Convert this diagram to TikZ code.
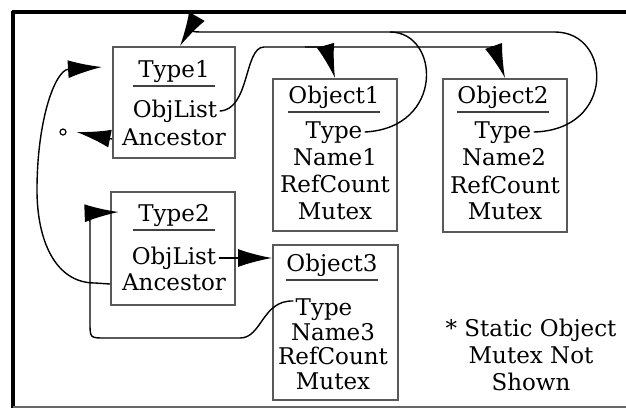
\documentclass[tikz,border=0pt]{standalone}
\usepackage{fontspec}
\setmainfont{DejaVu Serif}
\usetikzlibrary{arrows.meta,calc}
\begin{document}
\begin{tikzpicture}[x=0.5pt,y=-0.5pt,font=\fontsize{11.5pt}{13.5pt}\selectfont,
    box/.style={draw=black!65,line width=1pt,inner sep=0pt},
    head/.style={inner ysep=2pt,inner xsep=0pt,minimum width=41pt,text height=8.5pt,text depth=2.5pt},
    field/.style={inner sep=1pt,text height=8.5pt,text depth=2.5pt},
    rule/.style={draw=black!75,line width=1pt},
    wire/.style={line width=0.7pt},
    link/.style={line width=0.7pt,-{Latex[length=17pt,width=9pt]}}]
  \useasboundingbox (0,0) rectangle (626,409);
  \draw[line width=2pt] (12,12) -- (626,12);
  \draw[line width=1.6pt] (13,11) -- (13,408);
  \draw[black!60,line width=0.6pt] (13,407) -- (626,407);

  \node[box,minimum width=61pt,minimum height=55.5pt] (t1) at (174,102.5) {};
  \node[box,minimum width=62pt,minimum height=56.5pt] (t2) at (173,248.5) {};
  \node[box,minimum width=62pt,minimum height=76pt] (o1) at (335,155) {};
  \node[box,minimum width=62pt,minimum height=76.5pt] (o2) at (505,155.5) {};
  \node[box,minimum width=62.5pt,minimum height=77.5pt] (o3) at (335.5,322.5) {};

  \node[head] (t1head) at (174,71) {Type1};
  \node[field] (t1obj) at (175,111) {ObjList};
  \node[field] (t1anc) at (174,139) {Ancestor};

  \node[head] (t2head) at (174,215) {Type2};
  \node[field] (t2obj) at (174,258) {ObjList};
  \node[field] (t2anc) at (174,284) {Ancestor};

  \node[head] (o1head) at (334,97) {Object1};
  \node[field] (o1type) at (334,132) {Type};
  \node[field] (o1name) at (335,159) {Name1};
  \node[field] (o1ref) at (335,186) {RefCount};
  \node[field] (o1mtx) at (335,213) {Mutex};

  \node[head] (o2head) at (503,97) {Object2};
  \node[field] (o2type) at (503,132) {Type};
  \node[field] (o2name) at (504,159) {Name2};
  \node[field] (o2ref) at (505,187) {RefCount};
  \node[field] (o2mtx) at (505,213) {Mutex};

  \node[head] (o3head) at (332,265) {Object3};
  \node[field] (o3type) at (324,309) {Type};
  \node[field] (o3name) at (333,334) {Name3};
  \node[field] (o3ref) at (333,358) {RefCount};
  \node[field] (o3mtx) at (333,383) {Mutex};

  \foreach \h in {t1head,t2head,o1head,o2head,o3head}
    \draw[rule] (\h.south west) -- (\h.south east);

  \node[circle,draw,line width=0.6pt,minimum size=3pt,inner sep=0pt] (nil) at (63,132) {};
  \node[align=center] (note) at (531,355) {* Static Object\\Mutex Not\\Shown};

  \coordinate (split) at (305,47);
  \coordinate (back) at (390,32);
  \draw[wire] (t1obj.east) .. controls (250,110) and (244,47) .. (264,47) -- (split);
  \draw[link] (split) .. controls (326,47) .. (o1.north);
  \draw[link] (split) -- (468,47) .. controls (494,47) .. (o2.north);
  \draw[wire] (o1type.east) .. controls (445,128) and (440,32) .. (back);
  \draw[link] (o2type.east) .. controls (616,130) and (612,32) .. (555,32) -- (back) -- (205,32)
    .. controls (188,32) .. ($(t1.north)+(6,0)$);
  \draw[link] (t1anc -| t1.west) -- ($(nil.east)+(10,0)$);
  \draw[link] (t2anc -| t2.west) -- (95,283) .. controls (55,283) and (37,240) .. (37,190)
    .. controls (37,120) and (55,70) .. ($(t1head.west -| t1.west)+(-10,-4)$);
  \draw[link] (t2obj.east) -- (t2obj.east -| o3.west);
  \draw[link] ($(o3type.west)+(0,-8)$) .. controls (262,300) and (262,338) .. (240,338) -- (105,338)
    .. controls (90,338) .. (90,322) -- (90,230) .. controls (90,213) .. ($(t2head.west)+(-14,-3)$);
\end{tikzpicture}
\end{document}
